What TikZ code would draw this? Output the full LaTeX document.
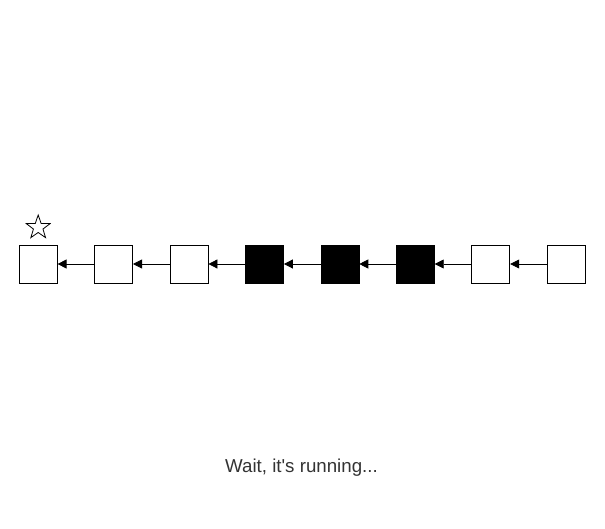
\documentclass[tikz,border=0pt]{standalone}
\usepackage{fontspec}
\setmainfont{Liberation Sans}
\usetikzlibrary{shapes.geometric,arrows.meta}
\definecolor{txtgray}{HTML}{333333}
\tikzset{
  cell/.style={draw=black, line width=0.8pt, minimum size=38pt, inner sep=0pt, fill=white},
  cellon/.style={cell, fill=black},
  link/.style={draw=black, line width=0.8pt, -{Triangle[length=9pt,width=9pt]}},
}
\begin{document}
\begin{tikzpicture}[x=1pt,y=-1pt]
\useasboundingbox (0,0) rectangle (605,529);
\node[cell]   (b1) at (38.2,264) {};
\node[cell]   (b2) at (113.6,264) {};
\node[cell]   (b3) at (189.0,264) {};
\node[cellon] (b4) at (264.5,264) {};
\node[cellon] (b5) at (339.9,264) {};
\node[cellon] (b6) at (415.3,264) {};
\node[cell]   (b7) at (490.8,264) {};
\node[cell]   (b8) at (566.2,264) {};
\foreach \a/\b in {b2/b1,b3/b2,b4/b3,b5/b4,b6/b5,b7/b6,b8/b7}
  \draw[link] (\a.west) -- (\b.east);
\node[star, star points=5, star point ratio=2.5, draw=black, line width=0.8pt, minimum size=25pt, inner sep=0pt] (star) at (38.2,227.5) {};
\node[text=txtgray, font=\fontsize{18.7}{22}\selectfont] (msg) at (301.5,467.5) {Wait, it\textquotesingle s running...};
\end{tikzpicture}
\end{document}
